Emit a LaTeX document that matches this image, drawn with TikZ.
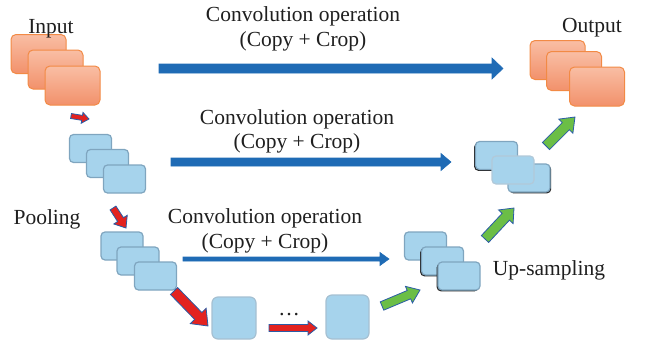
\documentclass[tikz,border=0pt]{standalone}
\usepackage{fontspec}
\setmainfont{Liberation Serif}
\usetikzlibrary{shadows}
\definecolor{orT}{HTML}{F9BEA4}
\definecolor{orB}{HTML}{F2916B}
\definecolor{orD}{HTML}{F28A45}
\definecolor{bxF}{HTML}{A6D3EC}
\definecolor{bxD}{HTML}{7FA5BF}
\definecolor{arB}{HTML}{1F6BB5}
\definecolor{arO}{HTML}{2A5CA6}
\definecolor{arR}{HTML}{E3221F}
\definecolor{arG}{HTML}{6BBE46}
\newcommand\blockarr[6]{%
  \path (#1); \pgfgetlastxy{\baX}{\baY}%
  \path (#2); \pgfgetlastxy{\baXX}{\baYY}%
  \pgfmathsetmacro\baAng{atan2(\baYY-\baY,\baXX-\baX)}%
  \pgfmathsetmacro\baLen{veclen(\baXX-\baX,\baYY-\baY)}%
  \begin{scope}[shift={(\baX,\baY)}, rotate=\baAng]
    \filldraw[#6] (0pt,-#3) -- ({\baLen pt-#5},-#3) -- ({\baLen pt-#5},-#4) -- ({\baLen pt},0pt) -- ({\baLen pt-#5},#4) -- ({\baLen pt-#5},#3) -- (0pt,#3) -- cycle;
  \end{scope}}
\tikzset{
  obox/.style={draw=orD, line width=1pt, rounded corners=5pt, top color=orT, bottom color=orB, minimum width=55pt, minimum height=39pt, inner sep=0pt},
  bbox/.style={draw=bxD, line width=1.2pt, rounded corners=4pt, fill=bxF, minimum width=42pt, minimum height=28pt, inner sep=0pt},
  dk/.style={general shadow={fill=black!85, shadow xshift=-1.3pt, shadow yshift=-1.3pt}},
  dkr/.style={general shadow={fill=black!85, shadow xshift=1.2pt, shadow yshift=-1.3pt}},
  lbl/.style={font=\fontsize{21.5}{24}\selectfont, text=black!88, inner sep=0pt, anchor=base},
  barr/.style={fill=arB, draw=arB, line width=0.6pt},
  rarr/.style={fill=arR, draw=arO, line width=0.8pt},
  garr/.style={fill=arG, draw=arO, line width=0.8pt},
}
\begin{document}
\begin{tikzpicture}[x=1pt, y=-1pt]
\useasboundingbox (0,0) rectangle (649,351);
% input
\node[obox] (i1) at (38.5,54) {};
\node[obox] (i2) at (55.5,69.5) {};
\node[obox] (i3) at (72.5,85.5) {};
% output
\node[obox] (o1) at (557.5,60) {};
\node[obox] (o2) at (574,71) {};
\node[obox] (o3) at (597,86.5) {};
% level 2 left
\node[bbox] (a1) at (90.5,148.5) {};
\node[bbox] (a2) at (107.5,163.5) {};
\node[bbox] (a3) at (124.5,179) {};
% level 2 right
\node[bbox, dkr] (b3) at (529,178) {};
\node[bbox, dk] (b1) at (496.5,155.5) {};
\node[bbox, draw=bxD!60] (b2) at (513,170) {};
% level 3 left
\node[bbox] (c1) at (122,246) {};
\node[bbox] (c2) at (138,261) {};
\node[bbox] (c3) at (155.5,276) {};
% level 3 right
\node[bbox] (d1) at (425.5,246) {};
\node[bbox, dk] (d2) at (442.5,261) {};
\node[bbox, dk] (d3) at (459,276) {};
% bottom
\node[bbox, minimum width=44pt, minimum height=42pt, rounded corners=6pt, draw=bxD!70] (e1) at (234,318) {};
\node[bbox, minimum width=43pt, minimum height=44pt, rounded corners=6pt, draw=bxD!70] (e2) at (347.5,317) {};
% labels
\node[lbl] (tin) at (51,33) {Input};
\node[lbl] (tout) at (592,32) {Output};
\node[lbl] (t1a) at (303,21) {Convolution operation};
\node[lbl] (t1b) at (303,46) {(Copy + Crop)};
\node[lbl] (t2a) at (297,124) {Convolution operation};
\node[lbl] (t2b) at (297,148) {(Copy + Crop)};
\node[lbl] (t3a) at (265,223) {Convolution operation};
\node[lbl] (t3b) at (265,248) {(Copy + Crop)};
\node[lbl] (tpool) at (47,224) {Pooling};
\node[lbl] (tup) at (549,275) {Up-sampling};
\node[lbl] (tdots) at (289,315) {\ldots};
% arrow end points
\coordinate (s1) at (159,68.5);  \coordinate (f1) at (503,68.5);
\coordinate (s2) at (171,162);   \coordinate (f2) at (451,162);
\coordinate (s3) at (183,259);   \coordinate (f3) at (389,259);
\coordinate (s4) at (71,116);    \coordinate (f4) at (89,119);
\coordinate (s5) at (113,208);   \coordinate (f5) at (126,228);
\coordinate (s6) at (174,291);   \coordinate (f6) at (208,326);
\coordinate (s7) at (269,328);   \coordinate (f7) at (317,328);
\coordinate (s8) at (382,306);   \coordinate (f8) at (420,290);
\coordinate (s9) at (485,239);   \coordinate (f9) at (514,208);
\coordinate (s10) at (546,146);  \coordinate (f10) at (575,117);
% arrows
\blockarr{s1}{f1}{4.5pt}{10.5pt}{11pt}{barr}
\blockarr{s2}{f2}{4pt}{8.5pt}{10pt}{barr}
\blockarr{s3}{f3}{2pt}{6.5pt}{9pt}{barr}
\blockarr{s4}{f4}{2.5pt}{5.5pt}{7pt}{rarr}
\blockarr{s5}{f5}{3.5pt}{8pt}{10pt}{rarr}
\blockarr{s6}{f6}{5pt}{11pt}{14pt}{rarr}
\blockarr{s7}{f7}{3.5pt}{7pt}{9pt}{rarr}
\blockarr{s8}{f8}{4.5pt}{9pt}{12pt}{garr}
\blockarr{s9}{f9}{5pt}{10pt}{12pt}{garr}
\blockarr{s10}{f10}{5pt}{10pt}{13pt}{garr}
\end{tikzpicture}
\end{document}
